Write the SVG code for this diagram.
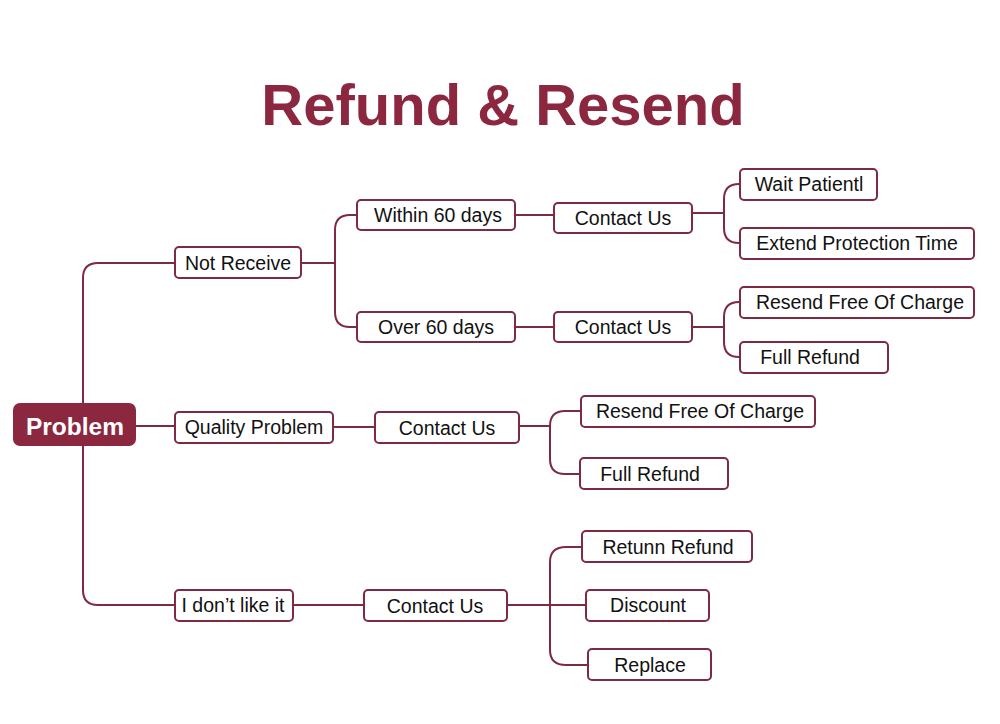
<svg xmlns="http://www.w3.org/2000/svg" width="1000" height="724" viewBox="0 0 1000 724">
<style>
.bx{fill:#fff;stroke:#7e2a41;stroke-width:2}
.tx{font-family:"Liberation Sans",Arial,sans-serif;font-size:19.5px;fill:#111;text-anchor:middle}
.ln{fill:none;stroke:#7e2a41;stroke-width:2}
</style>
<rect width="1000" height="724" fill="#fff"/>
<text x="503" y="125" font-family="'Liberation Sans',Arial,sans-serif" font-size="58" font-weight="bold" fill="#8c2740" text-anchor="middle">Refund &amp; Resend</text>
<g id="connectors">
<path class="ln" d="M175,263 H98 Q83,263 83,278 V590 Q83,605 98,605 H175"/>
<path class="ln" d="M135,426 H175"/>
<path class="ln" d="M301,263 H335"/>
<path class="ln" d="M357,215 H350 Q335,215 335,230 V312 Q335,327 350,327 H357"/>
<path class="ln" d="M515,215 H554"/>
<path class="ln" d="M515,327 H554"/>
<path class="ln" d="M692,213 H724"/>
<path class="ln" d="M740,184 H739 Q724,184 724,199 V228 Q724,243 739,243 H740"/>
<path class="ln" d="M692,327 H724"/>
<path class="ln" d="M740,302 H739 Q724,302 724,317 V342 Q724,357 739,357 H740"/>
<path class="ln" d="M333,427 H375"/>
<path class="ln" d="M519,426 H550"/>
<path class="ln" d="M581,411 H565 Q550,411 550,426 V459 Q550,474 565,474 H580"/>
<path class="ln" d="M293,605 H364"/>
<path class="ln" d="M507,605 H586"/>
<path class="ln" d="M582,547 H566 Q550,547 550,562 V650 Q550,665 566,665 H588"/>
</g>
<g id="problem"><rect x="13" y="403" width="123" height="43" rx="7" fill="#8c2740"/><text x="75" y="435" font-family="'Liberation Sans',Arial,sans-serif" font-size="24.5" font-weight="bold" fill="#fff" text-anchor="middle">Problem</text></g>
<g id="not-receive"><rect class="bx" x="175" y="247" width="126" height="31" rx="4"/><text class="tx" x="238" y="270">Not Receive</text></g>
<g id="within-60"><rect class="bx" x="357" y="200" width="158" height="30" rx="4"/><text class="tx" x="438" y="222">Within 60 days</text></g>
<g id="over-60"><rect class="bx" x="357" y="312" width="158" height="30" rx="4"/><text class="tx" x="436" y="334">Over 60 days</text></g>
<g id="contact-1"><rect class="bx" x="554" y="203" width="138" height="30" rx="4"/><text class="tx" x="623" y="225">Contact Us</text></g>
<g id="contact-2"><rect class="bx" x="554" y="312" width="138" height="30" rx="4"/><text class="tx" x="623" y="334">Contact Us</text></g>
<g id="wait"><rect class="bx" x="740" y="169" width="137" height="31" rx="4"/><text class="tx" x="809" y="191">Wait Patientl</text></g>
<g id="extend"><rect class="bx" x="740" y="228" width="234" height="31" rx="4"/><text class="tx" x="857" y="250">Extend Protection Time</text></g>
<g id="resend-1"><rect class="bx" x="740" y="287" width="234" height="31" rx="4"/><text class="tx" x="860" y="309">Resend Free Of Charge</text></g>
<g id="full-1"><rect class="bx" x="740" y="342" width="148" height="31" rx="4"/><text class="tx" x="810" y="364">Full Refund</text></g>
<g id="quality"><rect class="bx" x="175" y="412" width="158" height="31" rx="4"/><text class="tx" x="254" y="434">Quality Problem</text></g>
<g id="contact-3"><rect class="bx" x="375" y="412" width="144" height="31" rx="4"/><text class="tx" x="447" y="435">Contact Us</text></g>
<g id="resend-2"><rect class="bx" x="581" y="396" width="234" height="31" rx="4"/><text class="tx" x="700" y="418">Resend Free Of Charge</text></g>
<g id="full-2"><rect class="bx" x="580" y="458" width="148" height="31" rx="4"/><text class="tx" x="650" y="481">Full Refund</text></g>
<g id="dont-like"><rect class="bx" x="175" y="590" width="118" height="31" rx="4"/><text class="tx" x="233" y="612">I don’t like it</text></g>
<g id="contact-4"><rect class="bx" x="364" y="590" width="143" height="31" rx="4"/><text class="tx" x="435" y="613">Contact Us</text></g>
<g id="retunn"><rect class="bx" x="582" y="531" width="170" height="31" rx="4"/><text class="tx" x="668" y="554">Retunn Refund</text></g>
<g id="discount"><rect class="bx" x="586" y="590" width="123" height="31" rx="4"/><text class="tx" x="648" y="612">Discount</text></g>
<g id="replace"><rect class="bx" x="588" y="649" width="123" height="31" rx="4"/><text class="tx" x="650" y="672">Replace</text></g>
</svg>
